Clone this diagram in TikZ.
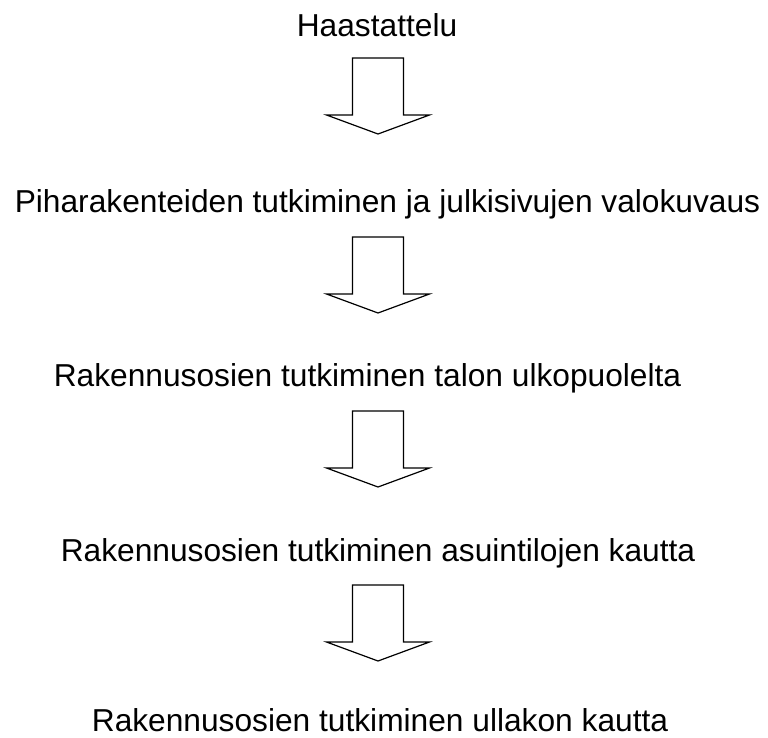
\documentclass[tikz,border=0pt]{standalone}
\usepackage{fontspec}
\setmainfont{Liberation Sans}
\begin{document}
\begin{tikzpicture}[x=1pt,y=-1pt,
  lbl/.style={anchor=base,inner sep=0pt,font=\fontsize{31.7}{38}\selectfont},
  blockarrow/.pic={\draw[line width=1.2pt,line join=miter,fill=white]
     (-25.5,0) -- (25.5,0) -- (25.5,57) -- (51.5,57) -- (0,76) -- (-51.5,57) -- (-25.5,57) -- cycle;}]
\useasboundingbox[fill=white] (0,0) rectangle (768,738);
\node[lbl] (t1) at (377,37) {Haastattelu};
\node[lbl] (t2) at (387.5,212) {Piharakenteiden tutkiminen ja julkisivujen valokuvaus};
\node[lbl] (t3) at (367.5,386) {Rakennusosien tutkiminen talon ulkopuolelta};
\node[lbl] (t4) at (378,561) {Rakennusosien tutkiminen asuintilojen kautta};
\node[lbl] (t5) at (380,731) {Rakennusosien tutkiminen ullakon kautta};
\pic at (378,58) {blockarrow};
\pic at (378,237) {blockarrow};
\pic at (378,411) {blockarrow};
\pic at (378,585) {blockarrow};
\end{tikzpicture}
\end{document}
